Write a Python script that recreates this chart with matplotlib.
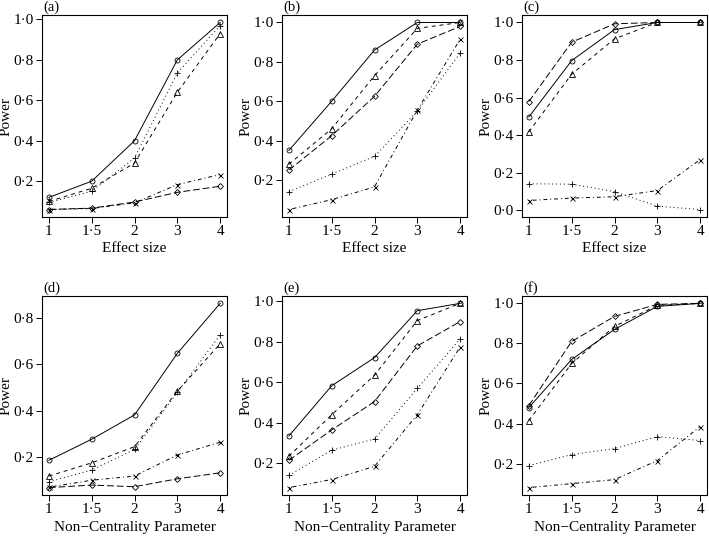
import matplotlib
matplotlib.use('Agg')
import matplotlib.pyplot as plt

plt.rcParams['font.family'] = ['Liberation Serif', 'DejaVu Serif']

# x positions are categorical: 1, 1.5, 2, 3, 4 shown at equal spacing
x_labels = ['1', '1·5', '2', '3', '4']

# power values, one list per method (circle/solid, triangle/dashed,
# plus/dotted, cross/dot-dash, diamond/long-dash)
a_circle = [0.12, 0.20, 0.40, 0.80, 0.985]
a_tri = [0.10, 0.165, 0.29, 0.64, 0.93]
a_plus = [0.095, 0.15, 0.315, 0.735, 0.97]
a_cross = [0.06, 0.065, 0.093, 0.183, 0.233]
a_diam = [0.06, 0.067, 0.097, 0.145, 0.175]

b_circle = [0.35, 0.60, 0.86, 1.0, 1.0]
b_tri = [0.28, 0.46, 0.73, 0.97, 1.0]
b_plus = [0.14, 0.23, 0.32, 0.55, 0.845]
b_cross = [0.05, 0.10, 0.165, 0.555, 0.915]
b_diam = [0.25, 0.425, 0.625, 0.89, 0.98]

c_circle = [0.497, 0.797, 0.962, 1.0, 1.0]
c_tri = [0.418, 0.725, 0.913, 1.0, 1.0]
c_plus = [0.141, 0.139, 0.099, 0.022, 0.004]
c_cross = [0.052, 0.065, 0.072, 0.105, 0.27]
c_diam = [0.579, 0.895, 0.993, 1.0, 1.0]

d_circle = [0.186, 0.277, 0.382, 0.648, 0.864]
d_tri = [0.118, 0.175, 0.245, 0.485, 0.689]
d_plus = [0.093, 0.144, 0.233, 0.479, 0.728]
d_cross = [0.07, 0.10, 0.118, 0.209, 0.264]
d_diam = [0.068, 0.079, 0.072, 0.106, 0.132]

e_circle = [0.335, 0.583, 0.722, 0.954, 0.99]
e_tri = [0.235, 0.44, 0.635, 0.905, 0.99]
e_plus = [0.14, 0.265, 0.32, 0.57, 0.815]
e_cross = [0.08, 0.12, 0.185, 0.44, 0.775]
e_diam = [0.215, 0.365, 0.505, 0.78, 0.90]

f_circle = [0.48, 0.72, 0.87, 0.985, 1.0]
f_tri = [0.415, 0.70, 0.885, 0.99, 1.0]
f_plus = [0.19, 0.245, 0.275, 0.335, 0.315]
f_cross = [0.08, 0.10, 0.12, 0.215, 0.385]
f_diam = [0.49, 0.81, 0.935, 0.995, 1.0]

panels = [
    ('(a)', 'Effect size', [a_circle, a_tri, a_plus, a_cross, a_diam]),
    ('(b)', 'Effect size', [b_circle, b_tri, b_plus, b_cross, b_diam]),
    ('(c)', 'Effect size', [c_circle, c_tri, c_plus, c_cross, c_diam]),
    ('(d)', 'Non\u2212Centrality Parameter', [d_circle, d_tri, d_plus, d_cross, d_diam]),
    ('(e)', 'Non\u2212Centrality Parameter', [e_circle, e_tri, e_plus, e_cross, e_diam]),
    ('(f)', 'Non\u2212Centrality Parameter', [f_circle, f_tri, f_plus, f_cross, f_diam]),
]

# R style lty 1..5 and pch 1..5
styles = [
    dict(ls='-', marker='o'),
    dict(ls=(0, (4, 4)), marker='^'),
    dict(ls=(0, (1, 3)), marker='+'),
    dict(ls=(0, (1, 3, 4, 3)), marker='x'),
    dict(ls=(0, (7, 3)), marker='D'),
]
msize = {'o': 3.6, '^': 3.8, '+': 5, 'x': 3.6, 'D': 3.0}

fig = plt.figure(figsize=(7.09, 5.37), dpi=100)
W, H = 709, 537
lefts = [42, 282, 522]
boxes = [(15, 217), (296, 495)]

for i, (tag, xlab, series) in enumerate(panels):
    row, col = divmod(i, 3)
    top, bot = boxes[row]
    ax = fig.add_axes([lefts[col] / W, 1 - bot / H, 185 / W, (bot - top) / H])
    xs = list(range(len(x_labels)))
    for vals, st in zip(series, styles):
        ax.plot(xs, vals, color='black', lw=0.7, ls=st['ls'], marker=st['marker'],
                ms=msize[st['marker']], mfc='none', mec='black', mew=0.6)
    allv = [v for s in series for v in s]
    lo, hi = min(allv), max(allv)
    pad = 0.04 * (hi - lo)
    ax.set_ylim(lo - pad, hi + pad)
    ax.set_xlim(-0.16, 4.16)
    ax.set_xticks(xs)
    ax.set_xticklabels(x_labels)
    yt = [t / 10 for t in range(0, 11, 2) if lo - pad <= t / 10 <= hi + pad]
    ax.set_yticks(yt)
    ax.set_yticklabels([f'{t:.1f}'.replace('.', '·') for t in yt])
    ax.tick_params(length=4, width=0.7, labelsize=11, pad=2)
    for sp in ax.spines.values():
        sp.set_linewidth(0.8)
    ax.set_xlabel(xlab, fontsize=11, labelpad=3)
    ax.set_ylabel('Power', fontsize=11)
    ax.yaxis.set_label_coords(-29 / 185, 0.5)
    fig.text((lefts[col] + 1) / W, 1 - (top - 8) / H, tag, ha='left', va='center',
             fontsize=10.5)

fig.savefig('out.png', dpi=100)
